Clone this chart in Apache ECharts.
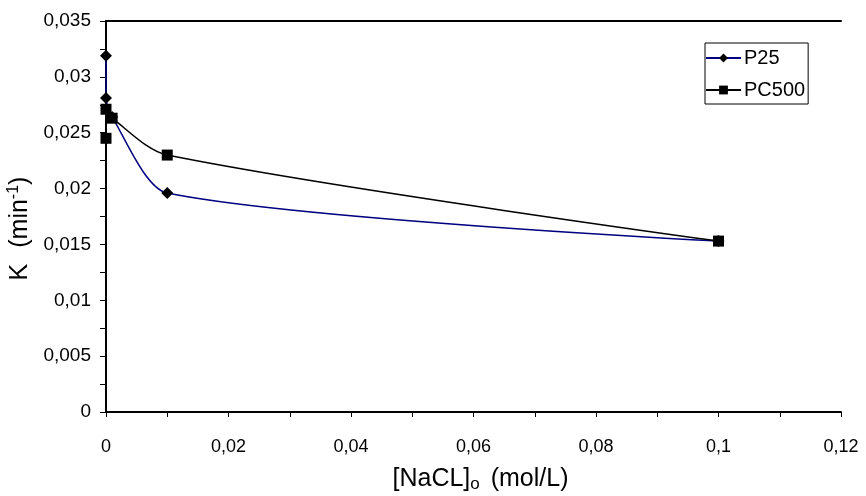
<!DOCTYPE html>
<html><head><meta charset="utf-8">
<script src="https://cdn.jsdelivr.net/npm/echarts@6/dist/echarts.min.js"></script>
<style>html,body{margin:0;padding:0;background:#fff}#c{width:866px;height:496px}</style>
</head><body><div id="c"></div>
<script>
const p25X = [0, 0, 0.001, 0.01, 0.1];
const p25Y = [0.0319, 0.0281, 0.0264, 0.0196, 0.0153];
const pc500X = [0, 0, 0.001, 0.01, 0.1];
const pc500Y = [0.0245, 0.0271, 0.0263, 0.0230, 0.0153];
const seriesNames = ['P25', 'PC500'];

const font = 'Liberation Sans, Arial, sans-serif';
const chart = echarts.init(document.getElementById('c'));
function fmt(v, step) {
  const k = Math.round(v / step);
  if (k % 2) return '';
  return String(+(k * step).toFixed(4)).replace('.', ',');
}
chart.setOption({
  animation: false,
  backgroundColor: '#fff',
  grid: { left: 106, right: 25, top: 21, bottom: 84, containLabel: false, outerBoundsMode: 'none' },
  legend: {
    left: 705, top: 43, orient: 'vertical',
    data: seriesNames,
    borderColor: '#000', borderWidth: 1, padding: [5, 3, 4, 0],
    itemWidth: 35, itemHeight: 11, itemGap: 12,
    textStyle: { fontFamily: font, fontSize: 20, color: '#000', padding: [0, 0, 0, -2] }
  },
  xAxis: [{
    type: 'value', min: 0, max: 0.12, interval: 0.01,
    splitLine: { show: false },
    axisLine: { lineStyle: { color: '#000', width: 2 } },
    axisTick: { lineStyle: { color: '#000', width: 1 }, length: 5 },
    axisLabel: { color: '#000', fontFamily: font, fontSize: 18, margin: 26, formatter: v => fmt(v, 0.01) },
    name: '{a|[NaCL]}{s|o}{a| (mol/L)}', nameLocation: 'middle', nameGap: 54,
    nameTextStyle: { padding: [0, 0, 0, 14], rich: { a: { fontFamily: font, fontSize: 25, color: '#000' }, s: { fontFamily: font, fontSize: 17, color: '#000', padding: [10, 4, 0, 0] } } }
  }, {
    type: 'value', position: 'top', min: 0, max: 0.12,
    axisLine: { show: true, onZero: false, lineStyle: { color: '#000', width: 2 } },
    axisTick: { show: false }, axisLabel: { show: false }, splitLine: { show: false }
  }],
  yAxis: {
    type: 'value', min: 0, max: 0.035, interval: 0.0025,
    splitLine: { show: false },
    axisLine: { show: true, lineStyle: { color: '#000', width: 2 } },
    axisTick: { show: true, lineStyle: { color: '#000', width: 1 }, length: 6 },
    axisLabel: { color: '#000', fontFamily: font, fontSize: 19, margin: 15, formatter: v => fmt(v, 0.0025) },
    name: '{a|K}{g| }{a|(min}{s|-1}{a|)}', nameLocation: 'middle', nameGap: 66,
    nameTextStyle: { padding: [0, 24, 0, 0], rich: { a: { fontFamily: font, fontSize: 25, color: '#000' }, g: { fontFamily: font, fontSize: 25, width: 16 }, s: { fontFamily: font, fontSize: 16, color: '#000', padding: [0, 0, 13, 0] } } }
  },
  series: [{
    name: seriesNames[0], type: 'line', smooth: 0.25,
    data: p25X.map((x, i) => [x, p25Y[i]]),
    symbol: 'diamond', symbolSize: 12,
    itemStyle: { color: '#000' },
    lineStyle: { color: '#000080', width: 1.5 }
  }, {
    name: seriesNames[1], type: 'line', smooth: 0.3,
    data: pc500X.map((x, i) => [x, pc500Y[i]]),
    symbol: 'rect', symbolSize: 11,
    itemStyle: { color: '#000' },
    lineStyle: { color: '#000', width: 1.5 }
  }]
});
</script></body></html>
